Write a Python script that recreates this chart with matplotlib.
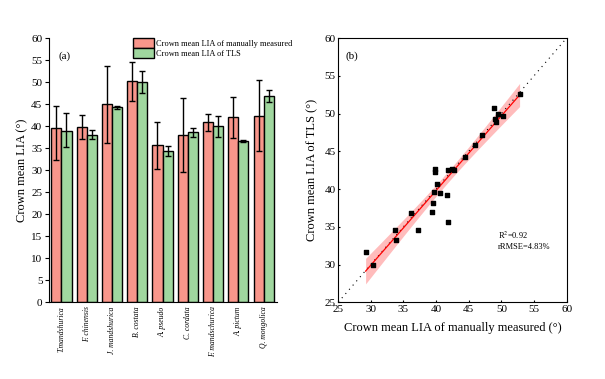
import numpy as np
import matplotlib
matplotlib.use('Agg')
import matplotlib.pyplot as plt

plt.rcParams['font.family'] = ['Liberation Serif', 'DejaVu Serif']
plt.rcParams['mathtext.fontset'] = 'stix'

# (a) crown mean LIA per species
species = ['T.mandshurica', 'F. chinensis', 'J. mandshurica', 'B. costata', 'A. pseudo',
           'C. cordata', 'F. mandschurica', 'A. pictum', 'Q. mongolica']
manual = [39.5, 39.8, 45.0, 50.2, 35.7, 38.0, 40.9, 42.0, 42.2]
manual_lo = [32.4, 37.0, 36.1, 45.8, 30.2, 29.5, 38.9, 37.3, 34.3]
manual_hi = [44.6, 42.5, 53.6, 54.5, 40.9, 46.4, 42.7, 46.6, 50.5]
tls = [39.0, 38.1, 44.3, 50.0, 34.3, 38.6, 40.0, 36.6, 46.8]
tls_lo = [35.2, 37.0, 43.9, 47.5, 33.3, 37.6, 37.5, 36.45, 45.5]
tls_hi = [42.9, 39.2, 44.6, 52.5, 35.5, 39.5, 42.3, 36.75, 48.2]

# (b) per-tree comparison
meas_x = [52.8, 48.9, 49.5, 49.0, 49.2, 50.3, 47.0, 45.9, 44.4, 39.9, 39.9, 41.8, 42.4,
          42.7, 40.1, 39.7, 40.6, 41.6, 39.5, 39.4, 36.1, 33.7, 37.2, 33.8, 41.8, 29.2, 30.4]
tls_y = [52.6, 50.7, 49.9, 49.3, 48.9, 49.7, 47.1, 45.8, 44.3, 42.6, 42.2, 42.5, 42.6,
         42.5, 40.7, 39.6, 39.5, 39.2, 38.2, 36.9, 36.8, 34.6, 34.6, 33.2, 35.6, 31.6, 29.9]

red = '#f8968b'
green = '#a0d79f'

fig = plt.figure(figsize=(6.05, 3.79), dpi=100)

ax1 = fig.add_axes([0.0815, 0.2024, 0.376, 0.697])
x = np.arange(len(species))
w = 0.4
m = np.array(manual)
t = np.array(tls)
ax1.bar(x - w/2, m, w, color=red, edgecolor='black', linewidth=1.0,
        label='Crown mean LIA of manually measured')
ax1.bar(x + w/2, t, w, color=green, edgecolor='black', linewidth=1.0,
        label='Crown mean LIA of TLS')
ax1.errorbar(x - w/2, m, yerr=[m - np.array(manual_lo), np.array(manual_hi) - m],
             fmt='none', ecolor='black', elinewidth=1.0, capsize=2.5, capthick=1.0)
ax1.errorbar(x + w/2, t, yerr=[t - np.array(tls_lo), np.array(tls_hi) - t],
             fmt='none', ecolor='black', elinewidth=1.0, capsize=2.5, capthick=1.0)
ax1.set_xlim(-0.48, 8.52)
ax1.set_ylim(0, 60)
ax1.set_yticks(range(0, 61, 5))
ax1.set_xticks(x)
ax1.set_xticklabels(species, rotation=90, fontsize=5.5, style='italic')
ax1.tick_params(axis='x', length=0, pad=3)
ax1.tick_params(axis='y', direction='out', length=3, labelsize=8, pad=2)
ax1.spines['top'].set_visible(False)
ax1.spines['right'].set_visible(False)
ax1.set_ylabel('Crown mean LIA (°)', fontsize=9, labelpad=2)
ax1.text(0.04, 0.95, '(a)', transform=ax1.transAxes, fontsize=8, va='top')
ax1.legend(loc='upper right', bbox_to_anchor=(1.09, 1.02), frameon=False, fontsize=6,
           handlelength=2.6, handleheight=1.5, handletextpad=0.2, labelspacing=0.0,
           borderaxespad=0.2)

ax2 = fig.add_axes([0.559, 0.2024, 0.3775, 0.697])
xs = np.array(meas_x)
ys = np.array(tls_y)
k, b = np.polyfit(xs, ys, 1)
xf = np.linspace(xs.min(), xs.max(), 100)
yf = k * xf + b
n = len(xs)
resid = ys - (k * xs + b)
s = np.sqrt(np.sum(resid ** 2) / (n - 2))
sxx = np.sum((xs - xs.mean()) ** 2)
ci = 2.06 * s * np.sqrt(1.0 / n + (xf - xs.mean()) ** 2 / sxx)
ax2.fill_between(xf, yf - ci, yf + ci, color='#ffa0a0', alpha=0.7, linewidth=0)
ax2.plot([25, 60], [25, 60], color='black', linestyle=(0, (1, 4)), linewidth=0.8)
ax2.plot(xf, yf, color='red', linewidth=0.9)
ax2.scatter(xs, ys, marker='s', s=12, color='black', zorder=3)
ax2.set_xlim(25, 60)
ax2.set_ylim(25, 60)
ax2.set_xticks(range(25, 61, 5))
ax2.set_yticks(range(25, 61, 5))
ax2.tick_params(direction='in', length=1.5, labelsize=8, pad=2)
ax2.set_xlabel('Crown mean LIA of manually measured (°)', fontsize=9, labelpad=6)
ax2.set_ylabel('Crown mean LIA of TLS (°)', fontsize=9, labelpad=4)
ax2.text(0.03, 0.95, '(b)', transform=ax2.transAxes, fontsize=8, va='top')
ax2.text(0.70, 0.235, 'R$^2$=0.92\nrRMSE=4.83%', transform=ax2.transAxes, fontsize=6,
         va='center', linespacing=1.2)

fig.savefig('out.png', dpi=100)
